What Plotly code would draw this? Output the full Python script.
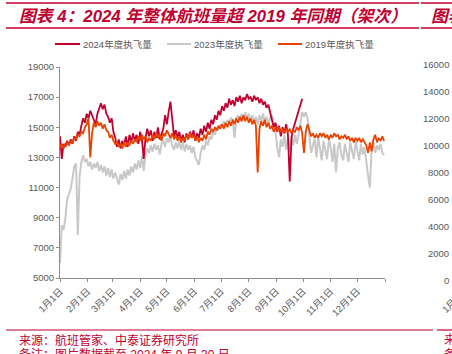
import plotly.graph_objects as go

# ---------------- data ----------------
month_labels = ["1月1日", "2月1日", "3月1日", "4月1日", "5月1日", "6月1日",
                "7月1日", "8月1日", "9月1日", "10月1日", "11月1日", "12月1日"]
month_start_days = [0, 31, 59, 90, 120, 151, 181, 212, 243, 273, 304, 334]
year_end_day = 365

# daily flights sampled every 2 days (day-of-year 0, 2, 4, ...)
vals_2024 = [14400, 12900, 13900, 13700, 14100, 13800, 14200, 13900, 14400, 14100,
             14700, 14500, 15100, 15600, 15300, 15900, 15600, 16100, 15800, 15500,
             15200, 15900, 16300, 16600, 16200, 16500, 15900, 15700, 15300, 15600,
             14700, 14300, 13700, 14200, 13600, 14100, 13800, 14400, 13700, 14500,
             14000, 14600, 14100, 14500, 13900, 14700, 14200, 12900, 14300, 14900,
             14400, 14800, 14100, 14700, 14300, 15000, 14200, 14600, 14900, 15800,
             15200, 16000, 16700, 15600, 14400, 14800, 14300, 14700, 14100, 14500,
             14000, 14600, 14200, 14700, 14300, 14800, 14100, 14600, 14300, 14900,
             14500, 15100, 14700, 15300, 14900, 15500, 15200, 15800, 15500, 16100,
             15800, 16400, 16100, 16600, 16300, 16900, 16500, 16800, 16400, 17000,
             16700, 17100, 16600, 17000, 16800, 17200, 16900, 17000, 16700, 17100,
             16800, 17000, 16600, 16900, 16500, 16700, 16300, 16500, 16000, 15600,
             15000, 15300, 14700, 15100, 14400, 15000, 14600, 15200, 14500, 11400,
             14300, 14900, 15300, 15700, 16000, 16400, 16900]

vals_2023 = [6000, 8500, 8200, 8900, 10200, 10500, 10900, 11600, 12400, 12600,
             7850, 11800, 12700, 13150, 12700, 12900, 12400, 12700, 12200, 12600,
             12300, 12700, 12100, 12500, 12000, 12400, 11800, 12300, 11700, 12200,
             11600, 12000, 11500, 11200, 11900, 11500, 12100, 11600, 12200, 11800,
             12400, 12000, 12600, 12200, 12800, 12300, 13100, 12100, 13200, 13600,
             13300, 13800, 13400, 13900, 13500, 13800, 13200, 13900, 14100, 13700,
             14300, 14000, 14400, 13800, 13500, 14000, 13600, 14100, 13500, 14000,
             13400, 13900, 13500, 13800, 13300, 13700, 13000, 12700, 12500, 13300,
             13800, 13500, 14100, 13800, 14400, 14200, 14700, 14500, 15000, 14800,
             15200, 15000, 15400, 15200, 15500, 15300, 15600, 15500, 14300, 15600,
             15800, 15400, 15900, 15500, 16000, 15600, 15900, 15400, 15800, 15300,
             15700, 15200, 15800, 15400, 15900, 15300, 15700, 15200, 15600, 15800,
             15300, 14800, 13600, 13000, 14200, 13700, 14500, 13500, 14300, 13400,
             14400, 13800, 14500, 13900, 14600, 15200, 16000, 15700, 16000, 15600,
             14200, 13300, 13800, 14200, 13000, 14300, 13600, 12800, 14100, 13500,
             12900, 14200, 13700, 12700, 13900, 12000, 13600, 14000, 13200, 12800,
             13900, 13300, 12700, 14000, 13400, 12900, 14100, 13500, 12800, 13900,
             13200, 13700, 12600, 11800, 11000, 13600, 14000, 13300, 13800, 13500,
             13900, 13300, 13150]

vals_2019 = [13700, 13900, 13600, 13900, 14000, 13800, 14100, 14000, 14300, 14200,
             14500, 14400, 14700, 14600, 15000, 15200, 15600, 13000, 14600, 15300,
             15000, 15400, 15100, 15300, 14900, 15200, 14800, 14700, 14300, 14500,
             14100, 13900, 14000, 13700, 13900, 13600, 14000, 13700, 14000, 13800,
             14100, 13900, 14200, 14000, 14400, 14100, 14500, 14200, 14400, 14000,
             14300, 14100, 14500, 14200, 14600, 14300, 14500, 14100, 14600, 14400,
             14800, 14500, 14300, 14600, 14200, 14500, 14100, 14400, 14000, 14300,
             14100, 14500, 14200, 14600, 14300, 14500, 14100, 14400, 14000, 14300,
             14100, 14500, 14200, 14700, 14500, 14900, 14700, 15000, 14800, 15100,
             14900, 15200, 14900, 15300, 15000, 15400, 15100, 15500, 15200, 15600,
             15300, 15700, 15400, 15800, 15400, 15700, 15300, 15600, 15200, 15500,
             15100, 12000, 14900, 15400, 15100, 15500, 15000, 15300, 14900, 15100,
             14700, 15000, 14800, 15000, 14700, 14900, 14600, 14900, 14700, 14900,
             14600, 14800, 14700, 15000, 14800, 15100, 14600, 13300, 14700, 15200,
             14700, 14400, 14600, 14300, 14500, 14300, 14600, 14400, 14600, 14300,
             14500, 14200, 14500, 14300, 14600, 14400, 14500, 14200, 14400, 14300,
             14500, 14200, 14400, 14100, 14300, 14000, 14300, 14100, 14300, 14000,
             14200, 14000, 13800, 13300, 14000, 13400, 14200, 14500, 14000, 14300,
             14100, 14400, 14100]

series_names = ["2024年度执飞量", "2023年度执飞量", "2019年度执飞量"]
right_chart_ticks = [0, 2000, 4000, 6000, 8000, 10000, 12000, 14000, 16000]

title_text = "图表 4：2024 年整体航班量超 2019 年同期（架次）"
source_text = "来源：航班管家、中泰证券研究所"
note_text = "备注：图片数据截至 2024 年 9 月 30 日"

# ---------------- style ----------------
W, H = 452, 354
L, R, T, B = 60, 385, 67, 278
C24, C23, C19 = "#C2002F", "#C8C8C8", "#E84300"
RED = "#C00030"
AXIS = "#8C8C8C"
TXT = "#595959"
FONT = "Liberation Sans, Noto Sans CJK SC"


def fx(px):
    return (px - L) / (R - L)


def fy(py):
    return (B - py) / (B - T)


def days_for(vals):
    return [2 * i for i in range(len(vals))]


fig = go.Figure()
fig.add_trace(go.Scatter(x=days_for(vals_2023), y=vals_2023, mode="lines",
                         line=dict(color=C23, width=2), name=series_names[1]))
fig.add_trace(go.Scatter(x=days_for(vals_2024), y=vals_2024, mode="lines",
                         line=dict(color=C24, width=1.8), name=series_names[0]))
fig.add_trace(go.Scatter(x=days_for(vals_2019), y=vals_2019, mode="lines",
                         line=dict(color=C19, width=1.8), name=series_names[2]))

fig.update_layout(
    width=W, height=H, autosize=False,
    margin=dict(l=L, r=W - R, t=T, b=H - B, pad=0),
    paper_bgcolor="white", plot_bgcolor="white",
    showlegend=False,
    font=dict(family=FONT, size=9.5, color=TXT),
    xaxis=dict(range=[0, year_end_day],
               tickvals=month_start_days + [year_end_day],
               ticktext=month_labels + [""],
               tickangle=-45, ticks="outside", ticklen=3, tickcolor=AXIS,
               showline=True, linecolor=AXIS, linewidth=1,
               showgrid=False, zeroline=False,
               tickfont=dict(size=9.5, color=TXT, family=FONT)),
    yaxis=dict(range=[5000, 19000], tick0=5000, dtick=2000, tickformat="d",
               ticks="outside", ticklen=3, tickcolor=AXIS,
               showline=True, linecolor=AXIS, linewidth=1,
               showgrid=False, zeroline=False,
               tickfont=dict(size=9.5, color=TXT, family=FONT)),
)

shapes = []
# red rules
for (x0, x1) in [(6, 419), (421, 452)]:
    for py in (3, 28):
        shapes.append(dict(type="line", xref="paper", yref="paper",
                           x0=fx(x0), x1=fx(x1), y0=fy(py), y1=fy(py),
                           line=dict(color=RED, width=1.5)))
for (x0, x1) in [(6, 433), (437, 452)]:
    shapes.append(dict(type="line", xref="paper", yref="paper",
                       x0=fx(x0), x1=fx(x1), y0=fy(330), y1=fy(330),
                       line=dict(color=RED, width=1.2)))
# legend samples
legend_items = [(55, 80, 81, C24, series_names[0]),
                (167, 191, 192, C23, series_names[1]),
                (278, 302, 303, C19, series_names[2])]
annotations = []
for (x0, x1, xt, col, name) in legend_items:
    shapes.append(dict(type="line", xref="paper", yref="paper",
                       x0=fx(x0), x1=fx(x1), y0=fy(44), y1=fy(44),
                       line=dict(color=col, width=2)))
    annotations.append(dict(xref="paper", yref="paper", x=fx(xt), y=fy(44),
                            xanchor="left", yanchor="middle", showarrow=False,
                            text=name, font=dict(size=9.5, color=TXT, family=FONT)))

# titles
annotations.append(dict(xref="paper", yref="paper", x=fx(17), y=fy(16),
                        xanchor="left", yanchor="middle", showarrow=False,
                        text="<b><i>" + title_text + "</i></b>",
                        font=dict(size=16.8, color=RED, family=FONT)))
annotations.append(dict(xref="paper", yref="paper", x=fx(429), y=fy(16),
                        xanchor="left", yanchor="middle", showarrow=False,
                        text="<b><i>图表 5：</i></b>",
                        font=dict(size=16.8, color=RED, family=FONT)))
# source / note
annotations.append(dict(xref="paper", yref="paper", x=fx(17), y=fy(340),
                        xanchor="left", yanchor="middle", showarrow=False,
                        text=source_text, font=dict(size=12, color=RED, family=FONT)))
annotations.append(dict(xref="paper", yref="paper", x=fx(17), y=fy(354),
                        xanchor="left", yanchor="middle", showarrow=False,
                        text=note_text, font=dict(size=12, color=RED, family=FONT)))
annotations.append(dict(xref="paper", yref="paper", x=fx(442), y=fy(340),
                        xanchor="left", yanchor="middle", showarrow=False,
                        text="来源：", font=dict(size=12, color=RED, family=FONT)))
annotations.append(dict(xref="paper", yref="paper", x=fx(442), y=fy(354),
                        xanchor="left", yanchor="middle", showarrow=False,
                        text="备注：", font=dict(size=12, color=RED, family=FONT)))
# neighbouring chart's axis labels (cut at the right edge)
for i, v in enumerate(right_chart_ticks):
    py = 280 - i * (280 - 65) / (len(right_chart_ticks) - 1)
    annotations.append(dict(xref="paper", yref="paper", x=fx(451), y=fy(py),
                            xanchor="right", yanchor="middle", showarrow=False,
                            text=str(v), font=dict(size=9.5, color=TXT, family=FONT)))
annotations.append(dict(xref="paper", yref="paper", x=fx(454), y=fy(300),
                        xanchor="center", yanchor="middle", showarrow=False,
                        textangle=-45, text=month_labels[0],
                        font=dict(size=9.5, color=TXT, family=FONT)))

fig.update_layout(shapes=shapes, annotations=annotations)
fig.write_html("out.html", config={"displayModeBar": False})
